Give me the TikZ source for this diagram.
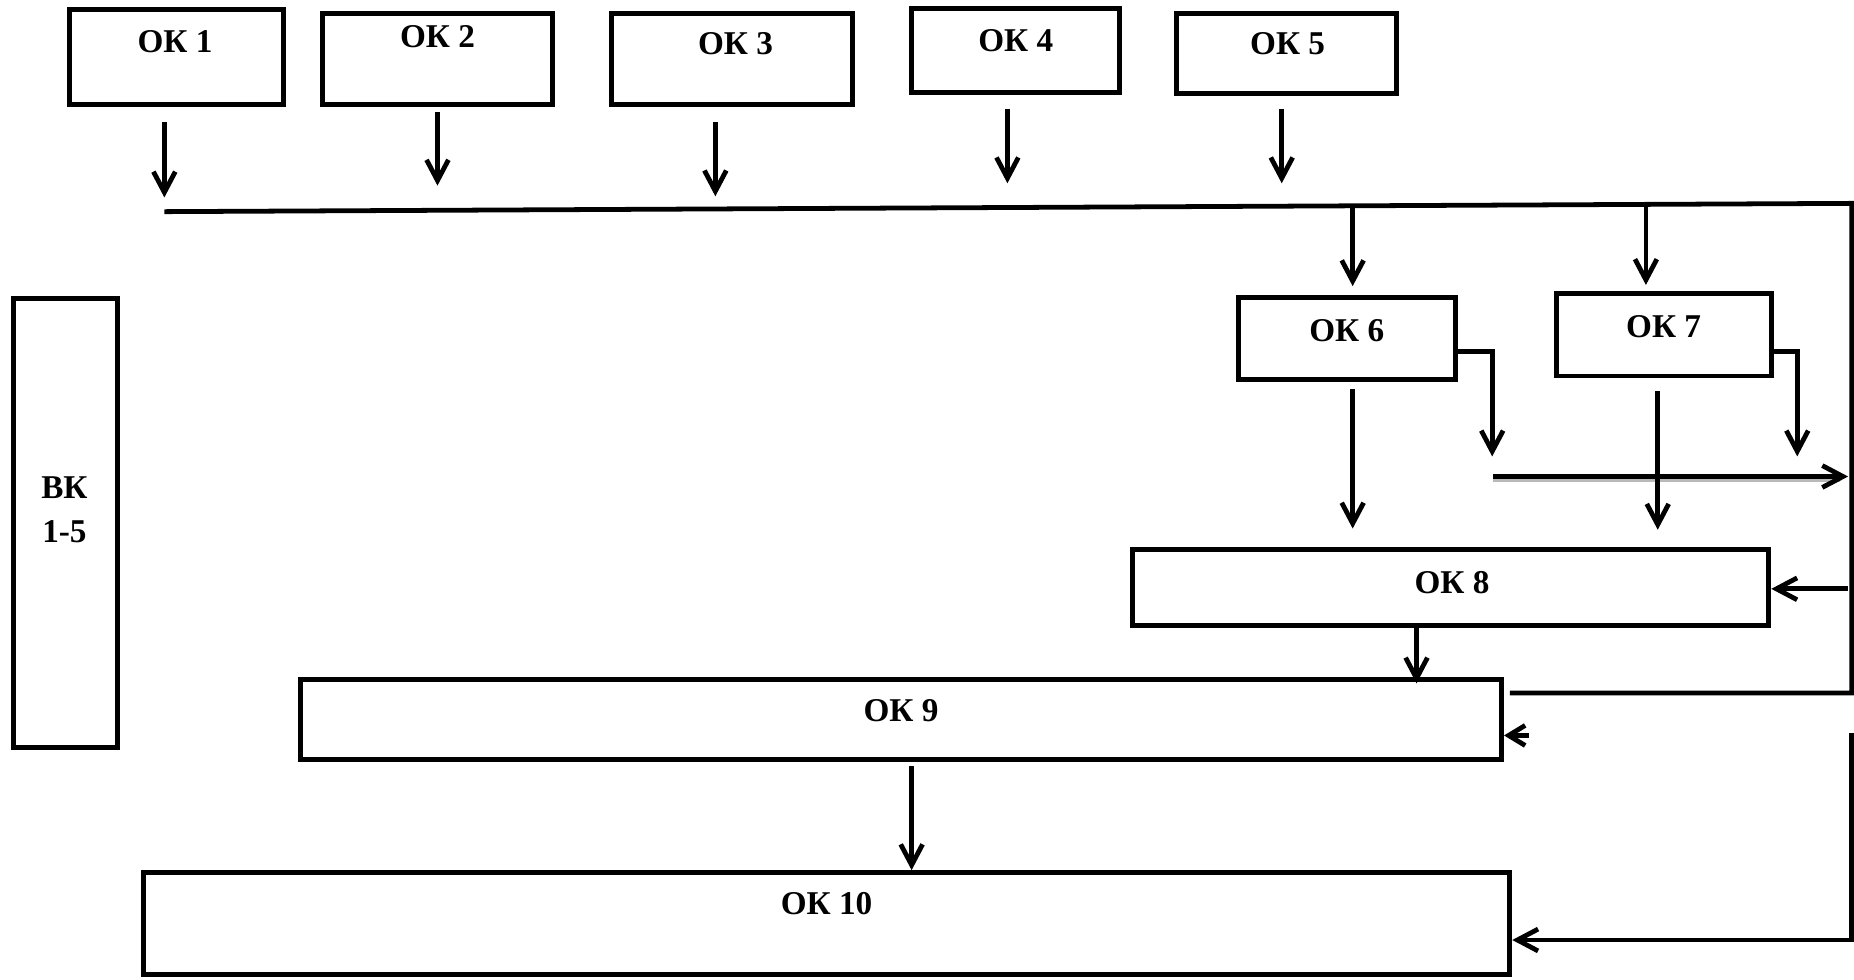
\documentclass[tikz,border=0pt]{standalone}
\usepackage{fontspec}
\setmainfont{Liberation Serif}
\usetikzlibrary{arrows.meta,positioning}

\tikzset{
  box/.style={draw, line width=2.4pt, inner sep=0pt},
  lbl/.style={font=\bfseries\fontsize{16}{19}\selectfont, inner sep=0pt, align=center},
  ln/.style={line width=2.3pt},
  arr/.style={ln, -{Straight Barb[length=3.5mm, width=3.7mm, line width=2.3pt]}},
}

\begin{document}
\begin{tikzpicture}[x=0.02cm, y=-0.02cm]
    \useasboundingbox (0,0) rectangle (1568,828);

    % top row
    \node[box, minimum width=3.62cm, minimum height=1.6cm]  (ok1) at (149.5,48) {};
    \node[box, minimum width=3.88cm, minimum height=1.54cm] (ok2) at (370,49.5) {};
    \node[box, minimum width=4.08cm, minimum height=1.54cm] (ok3) at (619,49.5) {};
    \node[box, minimum width=3.52cm, minimum height=1.42cm] (ok4) at (859,43) {};
    \node[box, minimum width=3.72cm, minimum height=1.36cm] (ok5) at (1088,45) {};
    \node[lbl] (t1) at (148,35) {ОК 1};
    \node[lbl] (t2) at (370,31) {ОК 2};
    \node[lbl] (t3) at (622,37) {ОК 3};
    \node[lbl] (t4) at (859,34) {ОК 4};
    \node[lbl] (t5) at (1089,37) {ОК 5};

    % middle
    \node[box, minimum width=3.68cm, minimum height=1.38cm] (ok6) at (1139,286.5) {};
    \node[box, minimum width=3.64cm, minimum height=1.4cm]  (ok7) at (1407,283) {};
    \node[box, minimum width=10.76cm, minimum height=1.28cm] (ok8) at (1227,497) {};
    \node[lbl] (t6) at (1139,280) {ОК 6};
    \node[lbl] (t7) at (1407,276) {ОК 7};
    \node[lbl] (t8) at (1228,493) {ОК 8};

    % bottom
    \node[box, minimum width=20.32cm, minimum height=1.34cm] (ok9) at (762,608.5) {};
    \node[box, minimum width=23.12cm, minimum height=1.72cm] (ok10) at (699,781) {};
    \node[lbl] (t9) at (762,601) {ОК 9};
    \node[lbl] (t10) at (699,764) {ОК 10};

    \node[box, minimum width=1.76cm, minimum height=7.6cm] (vk) at (55,442) {};
    \node[lbl] (tvk) at (54.5,431) {ВК\\[2pt]1-5};

    % arrows under the top row
    \foreach \i/\x/\ya/\yb in {1/139/103/167, 2/370/95/157, 3/605/103/166, 4/852/92/155, 5/1084/92/155}{
        \coordinate (s\i) at (\x,\ya);
        \coordinate (e\i) at (\x,\yb);
        \draw[arr] (s\i) -- (e\i);
    }

    % common line
    \coordinate (busL) at (139,179);
    \coordinate (busR) at (1566,172);
    \coordinate (busB) at (1566,586);
    \coordinate (busE) at (1277,586);
    \draw[ln] (busL) -- (busR) -- (busB) -- (busE);

    \coordinate (in6) at (1144,175);
    \coordinate (in7) at (1392,174);
    \draw[arr] (in6) -- (1144,242);
    \draw[arr] (in7) -- (1392,241);

    % outputs of ОК 6 and ОК 7
    \coordinate (k6) at (1262,297);
    \coordinate (k7) at (1520,297);
    \draw[arr] (ok6.east |- k6) -- (k6) -- (1262,386);
    \draw[arr] (ok7.east |- k7) -- (k7) -- (1520,386);

    \coordinate (h6) at (1263,403);
    \coordinate (h7) at (1563,403);
    \draw[line width=2.3pt, gray!55] (1263,406) -- (1556,406);
    \draw[arr] (h6) -- (h7);

    \coordinate (d6) at (1144,329);
    \coordinate (d7) at (1402,331);
    \draw[arr] (d6) -- (1144,447);
    \draw[arr] (d7) -- (1402,448);

    % into ОК 8, ОК 9, ОК 10
    \coordinate (r8) at (1563,498);
    \draw[arr] (r8) -- (ok8.east |- r8);

    \coordinate (c89) at (1198,0);
    \draw[arr] (ok8.south -| c89) -- (1198,578);

    \coordinate (r9) at (1293,622);
    \draw[arr, -{Straight Barb[length=2.8mm, width=3.4mm, line width=2.3pt]}] (r9) -- (ok9.east |- r9);

    \coordinate (c910) at (771,648);
    \draw[arr] (c910) -- (ok10.north -| c910);

    \coordinate (v10) at (1566,620);
    \coordinate (w10) at (1566,795);
    \draw[arr] (v10) -- (w10) -- (ok10.east |- w10);
\end{tikzpicture}
\end{document}
